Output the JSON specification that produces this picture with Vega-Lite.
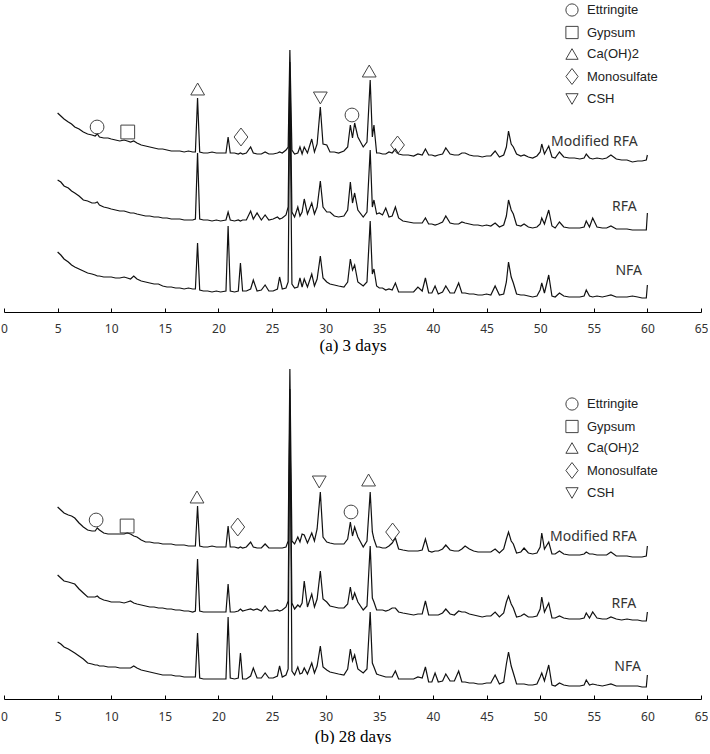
{
"$schema":"https://vega.github.io/schema/vega-lite/v6.json",
"padding":{"left":0,"top":0,"right":0,"bottom":0},
"background":"white",
"config":{"view":{"stroke":null}},
"spacing":12,
"resolve":{"scale":{"shape":"independent","y":"independent"},"legend":{"shape":"independent"}},
"datasets":{
"a":[
{"x":5,"m":199,"r":132,"n":60},{"x":5.3,"m":196,"r":130,"n":57},{"x":5.6,"m":193,"r":126,"n":53},{"x":6,"m":190,"r":124,"n":50},{"x":6.3,"m":188,"r":121,"n":47},{"x":6.6,"m":185,"r":119,"n":45},{"x":7,"m":183,"r":116,"n":43},{"x":7.4,"m":180,"r":112,"n":41},{"x":7.8,"m":178,"r":111,"n":39},{"x":8.2,"m":177,"r":109,"n":38},{"x":8.5,"m":176,"r":109,"n":37},{"x":8.7,"m":178,"r":110,"n":36},{"x":8.9,"m":175,"r":107,"n":36},{"x":9.3,"m":174,"r":105,"n":35},{"x":9.7,"m":174,"r":104,"n":35},{"x":10,"m":173,"r":103,"n":35},{"x":10.4,"m":172,"r":102,"n":34},{"x":10.8,"m":171,"r":101,"n":34},{"x":11.2,"m":172,"r":101,"n":35},{"x":11.5,"m":171,"r":100,"n":34},{"x":11.8,"m":170,"r":99,"n":33},{"x":12.1,"m":171,"r":99,"n":36},{"x":12.4,"m":169,"r":98,"n":33},{"x":12.8,"m":167,"r":97,"n":31},{"x":13.2,"m":166,"r":96,"n":30},{"x":13.6,"m":165,"r":96,"n":29},{"x":14,"m":164,"r":95,"n":28},{"x":14.4,"m":163,"r":95,"n":28},{"x":14.8,"m":163,"r":94,"n":26},{"x":15.2,"m":162,"r":94,"n":25},{"x":15.6,"m":161,"r":93,"n":25},{"x":16,"m":161,"r":93,"n":24},{"x":16.4,"m":161,"r":93,"n":24},{"x":16.8,"m":160,"r":92,"n":23},{"x":17.2,"m":161,"r":92,"n":24},{"x":17.6,"m":160,"r":92,"n":23},{"x":17.85,"m":160,"r":93,"n":23},{"x":18.05,"m":214,"r":159,"n":69},{"x":18.25,"m":160,"r":93,"n":22},{"x":18.6,"m":159,"r":92,"n":21},{"x":19,"m":159,"r":92,"n":21},{"x":19.4,"m":160,"r":91,"n":20},{"x":19.8,"m":159,"r":92,"n":21},{"x":20.2,"m":159,"r":91,"n":20},{"x":20.7,"m":159,"r":92,"n":21},{"x":20.9,"m":175,"r":100,"n":86},{"x":21.1,"m":159,"r":92,"n":21},{"x":21.5,"m":159,"r":91,"n":20},{"x":21.85,"m":158,"r":92,"n":21},{"x":22.05,"m":159,"r":91,"n":49},{"x":22.25,"m":158,"r":92,"n":21},{"x":22.6,"m":159,"r":92,"n":21},{"x":23.0,"m":165,"r":101,"n":23},{"x":23.25,"m":159,"r":93,"n":32},{"x":23.6,"m":158,"r":99,"n":21},{"x":24.0,"m":158,"r":92,"n":22},{"x":24.35,"m":160,"r":97,"n":27},{"x":24.7,"m":158,"r":92,"n":21},{"x":25.1,"m":158,"r":93,"n":21},{"x":25.5,"m":159,"r":95,"n":23},{"x":25.7,"m":160,"r":93,"n":35},{"x":25.95,"m":159,"r":94,"n":23},{"x":26.3,"m":162,"r":97,"n":24},{"x":26.5,"m":165,"r":105,"n":30},{"x":26.66,"m":262,"r":250,"n":230},{"x":26.85,"m":162,"r":100,"n":28},{"x":27.1,"m":158,"r":95,"n":24},{"x":27.4,"m":159,"r":105,"n":25},{"x":27.6,"m":165,"r":96,"n":34},{"x":27.8,"m":158,"r":100,"n":25},{"x":28.0,"m":165,"r":113,"n":33},{"x":28.3,"m":159,"r":98,"n":25},{"x":28.7,"m":173,"r":109,"n":38},{"x":28.95,"m":160,"r":98,"n":26},{"x":29.2,"m":168,"r":105,"n":33},{"x":29.5,"m":205,"r":131,"n":56},{"x":29.75,"m":168,"r":105,"n":34},{"x":30.1,"m":167,"r":100,"n":30},{"x":30.4,"m":160,"r":100,"n":28},{"x":30.8,"m":160,"r":96,"n":27},{"x":31.2,"m":159,"r":95,"n":26},{"x":31.7,"m":161,"r":96,"n":25},{"x":32.05,"m":165,"r":102,"n":30},{"x":32.3,"m":187,"r":130,"n":53},{"x":32.5,"m":174,"r":109,"n":42},{"x":32.7,"m":189,"r":119,"n":47},{"x":33.0,"m":175,"r":102,"n":30},{"x":33.5,"m":165,"r":95,"n":26},{"x":33.85,"m":170,"r":100,"n":30},{"x":34.15,"m":232,"r":162,"n":91},{"x":34.35,"m":175,"r":105,"n":38},{"x":34.5,"m":187,"r":112,"n":43},{"x":34.75,"m":159,"r":98,"n":26},{"x":35.0,"m":159,"r":99,"n":24},{"x":35.3,"m":158,"r":97,"n":24},{"x":35.6,"m":158,"r":104,"n":22},{"x":35.9,"m":160,"r":95,"n":23},{"x":36.2,"m":159,"r":96,"n":22},{"x":36.5,"m":163,"r":105,"n":29},{"x":36.8,"m":158,"r":94,"n":20},{"x":37.2,"m":157,"r":91,"n":20},{"x":37.7,"m":157,"r":90,"n":20},{"x":38.2,"m":156,"r":89,"n":20},{"x":38.6,"m":158,"r":89,"n":25},{"x":39.0,"m":157,"r":89,"n":21},{"x":39.3,"m":163,"r":94,"n":34},{"x":39.6,"m":157,"r":88,"n":19},{"x":39.9,"m":157,"r":88,"n":19},{"x":40.2,"m":156,"r":87,"n":26},{"x":40.5,"m":157,"r":88,"n":18},{"x":40.9,"m":158,"r":90,"n":20},{"x":41.2,"m":164,"r":96,"n":26},{"x":41.6,"m":158,"r":89,"n":19},{"x":42.0,"m":157,"r":88,"n":19},{"x":42.4,"m":157,"r":88,"n":29},{"x":42.7,"m":159,"r":90,"n":19},{"x":43.0,"m":159,"r":89,"n":19},{"x":43.4,"m":157,"r":88,"n":18},{"x":43.8,"m":156,"r":87,"n":18},{"x":44.2,"m":156,"r":87,"n":17},{"x":44.6,"m":155,"r":86,"n":17},{"x":45.0,"m":156,"r":87,"n":18},{"x":45.4,"m":156,"r":86,"n":17},{"x":45.8,"m":161,"r":89,"n":26},{"x":46.2,"m":155,"r":85,"n":17},{"x":46.6,"m":157,"r":87,"n":18},{"x":46.85,"m":165,"r":96,"n":30},{"x":47.05,"m":181,"r":112,"n":50},{"x":47.3,"m":168,"r":102,"n":35},{"x":47.5,"m":165,"r":98,"n":29},{"x":47.8,"m":158,"r":87,"n":18},{"x":48.2,"m":156,"r":86,"n":17},{"x":48.5,"m":157,"r":88,"n":17},{"x":48.9,"m":155,"r":85,"n":16},{"x":49.3,"m":154,"r":84,"n":15},{"x":49.7,"m":156,"r":85,"n":16},{"x":50.0,"m":160,"r":88,"n":22},{"x":50.15,"m":168,"r":94,"n":29},{"x":50.4,"m":158,"r":88,"n":19},{"x":50.8,"m":166,"r":102,"n":37},{"x":51.1,"m":155,"r":86,"n":16},{"x":51.4,"m":154,"r":84,"n":15},{"x":51.8,"m":160,"r":90,"n":19},{"x":52.2,"m":155,"r":85,"n":16},{"x":52.7,"m":154,"r":84,"n":15},{"x":53.2,"m":154,"r":84,"n":15},{"x":53.7,"m":153,"r":84,"n":15},{"x":54.1,"m":154,"r":85,"n":16},{"x":54.3,"m":158,"r":91,"n":22},{"x":54.6,"m":154,"r":85,"n":16},{"x":54.9,"m":153,"r":94,"n":15},{"x":55.3,"m":154,"r":85,"n":16},{"x":55.8,"m":153,"r":84,"n":15},{"x":56.2,"m":154,"r":84,"n":16},{"x":56.6,"m":157,"r":86,"n":17},{"x":57.1,"m":153,"r":83,"n":15},{"x":57.6,"m":152,"r":83,"n":15},{"x":58.1,"m":152,"r":83,"n":15},{"x":58.6,"m":150,"r":82,"n":16},{"x":59.1,"m":151,"r":82,"n":15},{"x":59.5,"m":151,"r":82,"n":14},{"x":59.9,"m":152,"r":82,"n":14},{"x":60,"m":157,"r":99,"n":27}
],
"b":[
{"x":5,"m":192,"r":124,"n":57},{"x":5.3,"m":189,"r":121,"n":55},{"x":5.6,"m":186,"r":118,"n":52},{"x":6,"m":184,"r":117,"n":50},{"x":6.3,"m":183,"r":116,"n":48},{"x":6.6,"m":181,"r":115,"n":46},{"x":7,"m":176,"r":110,"n":43},{"x":7.4,"m":172,"r":106,"n":40},{"x":7.8,"m":169,"r":102,"n":36},{"x":8.2,"m":168,"r":102,"n":35},{"x":8.5,"m":168,"r":102,"n":34},{"x":8.7,"m":171,"r":103,"n":34},{"x":8.9,"m":169,"r":101,"n":33},{"x":9.3,"m":166,"r":99,"n":33},{"x":9.7,"m":165,"r":98,"n":32},{"x":10,"m":165,"r":97,"n":32},{"x":10.4,"m":165,"r":97,"n":32},{"x":10.8,"m":165,"r":97,"n":31},{"x":11.2,"m":165,"r":96,"n":31},{"x":11.5,"m":166,"r":97,"n":31},{"x":11.8,"m":165,"r":98,"n":31},{"x":12.1,"m":163,"r":96,"n":33},{"x":12.4,"m":162,"r":95,"n":31},{"x":12.8,"m":159,"r":94,"n":29},{"x":13.2,"m":157,"r":93,"n":28},{"x":13.6,"m":157,"r":92,"n":27},{"x":14,"m":156,"r":92,"n":26},{"x":14.4,"m":156,"r":91,"n":25},{"x":14.8,"m":155,"r":91,"n":24},{"x":15.2,"m":155,"r":90,"n":24},{"x":15.6,"m":155,"r":90,"n":24},{"x":16,"m":154,"r":89,"n":23},{"x":16.4,"m":154,"r":89,"n":23},{"x":16.8,"m":154,"r":88,"n":22},{"x":17.2,"m":153,"r":88,"n":22},{"x":17.6,"m":153,"r":87,"n":22},{"x":17.85,"m":153,"r":88,"n":22},{"x":18.05,"m":193,"r":140,"n":66},{"x":18.25,"m":153,"r":88,"n":21},{"x":18.6,"m":152,"r":87,"n":20},{"x":19,"m":152,"r":87,"n":20},{"x":19.4,"m":153,"r":87,"n":20},{"x":19.8,"m":152,"r":87,"n":20},{"x":20.2,"m":152,"r":87,"n":20},{"x":20.7,"m":152,"r":87,"n":20},{"x":20.9,"m":173,"r":115,"n":82},{"x":21.1,"m":152,"r":87,"n":21},{"x":21.5,"m":152,"r":87,"n":20},{"x":21.85,"m":151,"r":88,"n":21},{"x":22.05,"m":152,"r":90,"n":46},{"x":22.25,"m":151,"r":88,"n":20},{"x":22.6,"m":152,"r":89,"n":20},{"x":23.0,"m":157,"r":90,"n":23},{"x":23.25,"m":152,"r":89,"n":31},{"x":23.6,"m":151,"r":90,"n":21},{"x":24.0,"m":151,"r":88,"n":21},{"x":24.35,"m":155,"r":93,"n":26},{"x":24.7,"m":151,"r":88,"n":21},{"x":25.1,"m":151,"r":88,"n":21},{"x":25.5,"m":151,"r":89,"n":23},{"x":25.7,"m":151,"r":88,"n":33},{"x":25.95,"m":151,"r":89,"n":22},{"x":26.3,"m":152,"r":92,"n":24},{"x":26.5,"m":158,"r":98,"n":30},{"x":26.66,"m":330,"r":290,"n":310},{"x":26.85,"m":158,"r":96,"n":28},{"x":27.1,"m":155,"r":90,"n":24},{"x":27.4,"m":162,"r":94,"n":32},{"x":27.6,"m":157,"r":92,"n":25},{"x":27.8,"m":165,"r":96,"n":26},{"x":28.0,"m":164,"r":118,"n":31},{"x":28.3,"m":156,"r":92,"n":25},{"x":28.7,"m":166,"r":105,"n":36},{"x":28.95,"m":158,"r":92,"n":26},{"x":29.2,"m":170,"r":100,"n":33},{"x":29.5,"m":207,"r":128,"n":53},{"x":29.75,"m":162,"r":100,"n":32},{"x":30.1,"m":157,"r":97,"n":29},{"x":30.4,"m":156,"r":93,"n":27},{"x":30.8,"m":155,"r":92,"n":26},{"x":31.2,"m":155,"r":91,"n":25},{"x":31.7,"m":155,"r":91,"n":24},{"x":32.05,"m":160,"r":95,"n":30},{"x":32.3,"m":177,"r":112,"n":50},{"x":32.5,"m":163,"r":99,"n":38},{"x":32.7,"m":172,"r":106,"n":44},{"x":33.0,"m":162,"r":97,"n":30},{"x":33.5,"m":152,"r":89,"n":26},{"x":33.85,"m":158,"r":93,"n":30},{"x":34.15,"m":207,"r":153,"n":87},{"x":34.35,"m":167,"r":101,"n":36},{"x":34.5,"m":160,"r":97,"n":32},{"x":34.75,"m":152,"r":89,"n":25},{"x":35.0,"m":152,"r":89,"n":24},{"x":35.3,"m":151,"r":89,"n":23},{"x":35.6,"m":151,"r":88,"n":22},{"x":35.9,"m":153,"r":89,"n":22},{"x":36.2,"m":156,"r":91,"n":22},{"x":36.5,"m":161,"r":91,"n":28},{"x":36.8,"m":150,"r":87,"n":20},{"x":37.2,"m":149,"r":86,"n":20},{"x":37.7,"m":148,"r":85,"n":20},{"x":38.2,"m":148,"r":84,"n":20},{"x":38.6,"m":148,"r":85,"n":22},{"x":39.0,"m":149,"r":85,"n":21},{"x":39.3,"m":160,"r":98,"n":32},{"x":39.6,"m":148,"r":84,"n":17},{"x":39.9,"m":147,"r":84,"n":17},{"x":40.2,"m":148,"r":84,"n":26},{"x":40.5,"m":148,"r":84,"n":17},{"x":40.9,"m":150,"r":86,"n":18},{"x":41.2,"m":154,"r":90,"n":25},{"x":41.6,"m":149,"r":85,"n":18},{"x":42.0,"m":148,"r":84,"n":18},{"x":42.4,"m":148,"r":88,"n":28},{"x":42.7,"m":150,"r":87,"n":17},{"x":43.0,"m":153,"r":87,"n":17},{"x":43.4,"m":150,"r":85,"n":16},{"x":43.8,"m":148,"r":84,"n":16},{"x":44.2,"m":147,"r":83,"n":15},{"x":44.6,"m":147,"r":82,"n":15},{"x":45.0,"m":147,"r":83,"n":16},{"x":45.4,"m":147,"r":83,"n":16},{"x":45.8,"m":150,"r":87,"n":24},{"x":46.2,"m":146,"r":82,"n":15},{"x":46.6,"m":150,"r":86,"n":17},{"x":46.85,"m":160,"r":97,"n":35},{"x":47.05,"m":167,"r":103,"n":47},{"x":47.3,"m":158,"r":95,"n":33},{"x":47.5,"m":155,"r":91,"n":26},{"x":47.8,"m":146,"r":82,"n":15},{"x":48.2,"m":147,"r":83,"n":15},{"x":48.5,"m":151,"r":85,"n":15},{"x":48.9,"m":146,"r":82,"n":14},{"x":49.3,"m":145,"r":82,"n":14},{"x":49.7,"m":146,"r":83,"n":15},{"x":50.0,"m":152,"r":90,"n":22},{"x":50.15,"m":166,"r":102,"n":26},{"x":50.4,"m":150,"r":87,"n":18},{"x":50.8,"m":157,"r":96,"n":34},{"x":51.1,"m":145,"r":81,"n":14},{"x":51.4,"m":145,"r":81,"n":13},{"x":51.8,"m":148,"r":83,"n":16},{"x":52.2,"m":145,"r":81,"n":14},{"x":52.7,"m":144,"r":80,"n":13},{"x":53.2,"m":144,"r":80,"n":13},{"x":53.7,"m":144,"r":80,"n":13},{"x":54.1,"m":145,"r":81,"n":14},{"x":54.3,"m":147,"r":86,"n":19},{"x":54.6,"m":145,"r":81,"n":14},{"x":54.9,"m":145,"r":87,"n":15},{"x":55.3,"m":144,"r":81,"n":14},{"x":55.8,"m":144,"r":80,"n":13},{"x":56.2,"m":144,"r":80,"n":14},{"x":56.6,"m":147,"r":82,"n":15},{"x":57.1,"m":143,"r":80,"n":13},{"x":57.6,"m":143,"r":79,"n":13},{"x":58.1,"m":143,"r":80,"n":13},{"x":58.6,"m":142,"r":79,"n":13},{"x":59.1,"m":142,"r":79,"n":13},{"x":59.5,"m":142,"r":78,"n":12},{"x":59.9,"m":143,"r":78,"n":12},{"x":60,"m":153,"r":87,"n":24}
],
"la":[{"x":59.1,"y":170,"t":"Modified RFA"},{"x":59.0,"y":105,"t":"RFA"},{"x":59.5,"y":41,"t":"NFA"}],
"lb":[{"x":59.0,"y":162,"t":"Modified RFA"},{"x":58.95,"y":95,"t":"RFA"},{"x":59.4,"y":32,"t":"NFA"}],
"pa":[{"x":8.68,"y":185,"c":"Ettringite"},{"x":11.54,"y":180,"c":"Gypsum"},{"x":18.06,"y":223,"c":"Ca(OH)2"},{"x":22.1,"y":175,"c":"Monosulfate"},{"x":29.5,"y":214,"c":"CSH"},{"x":32.45,"y":197,"c":"Ettringite"},{"x":34.06,"y":241,"c":"Ca(OH)2"},{"x":36.7,"y":167,"c":"Monosulfate"}],
"pb":[{"x":8.59,"y":179,"c":"Ettringite"},{"x":11.48,"y":173,"c":"Gypsum"},{"x":18.0,"y":202,"c":"Ca(OH)2"},{"x":21.8,"y":172,"c":"Monosulfate"},{"x":29.4,"y":217,"c":"CSH"},{"x":32.36,"y":187,"c":"Ettringite"},{"x":34.0,"y":219,"c":"Ca(OH)2"},{"x":36.24,"y":167,"c":"Monosulfate"}]
},
"vconcat":[
{
"width":697,"height":312,
"layer":[
{"data":{"name":"a"},"transform":[{"fold":["m","r","n"],"as":["s","v"]}],
 "mark":{"type":"line","color":"#111","strokeWidth":1.2},
 "encoding":{
  "x":{"field":"x","type":"quantitative","scale":{"domain":[0,65],"nice":false,"zero":false},
       "axis":{"values":[0,5,10,15,20,25,30,35,40,45,50,55,60,65],"labelFlush":false,"labelOverlap":false,"tickSize":-4,"tickColor":"#000","domainColor":"#000","grid":false,
               "labelFont":"Noto Sans","labelFontSize":12,"labelColor":"#333","labelPadding":15,
               "title":"(a)  3 days","titleFont":"Liberation Serif","titleFontSize":17,"titleFontWeight":"normal","titleColor":"#000","titlePadding":3}},
  "y":{"field":"v","type":"quantitative","scale":{"domain":[0,312],"nice":false,"zero":false},"axis":null},
  "detail":{"field":"s"}}},
{"data":{"name":"la"},"mark":{"type":"text","align":"right","baseline":"middle","font":"Noto Sans","fontSize":14,"color":"#333"},
 "encoding":{"x":{"field":"x","type":"quantitative"},"y":{"field":"y","type":"quantitative"},"text":{"field":"t"}}},
{"data":{"name":"pa"},"mark":{"type":"point","filled":false,"stroke":"#444","strokeWidth":1,"size":190,"opacity":1},
 "encoding":{"x":{"field":"x","type":"quantitative"},"y":{"field":"y","type":"quantitative"},
  "shape":{"field":"c","type":"nominal","scale":{"domain":["Ettringite","Gypsum","Ca(OH)2","Monosulfate","CSH"],"range":["circle","square","triangle-up","M-1,0L0,-1.3L1,0L0,1.3Z","triangle-down"]},
   "legend":{"title":null,"orient":"none","legendX":561,"legendY":3,"padding":0,"labelFont":"Liberation Sans","labelFontSize":13,"labelColor":"#222","symbolSize":150,"symbolStrokeColor":"#444","symbolStrokeWidth":1,"symbolFillColor":"transparent","rowPadding":4.5,"labelOffset":8}}}}
]
},
{
"width":697,"height":334,
"layer":[
{"data":{"name":"b"},"transform":[{"fold":["m","r","n"],"as":["s","v"]}],
 "mark":{"type":"line","color":"#111","strokeWidth":1.2},
 "encoding":{
  "x":{"field":"x","type":"quantitative","scale":{"domain":[0,65],"nice":false,"zero":false},
       "axis":{"values":[0,5,10,15,20,25,30,35,40,45,50,55,60,65],"labelFlush":false,"labelOverlap":false,"tickSize":-4,"tickColor":"#000","domainColor":"#000","grid":false,
               "labelFont":"Noto Sans","labelFontSize":12,"labelColor":"#333","labelPadding":16,
               "title":"(b) 28 days","titleFont":"Liberation Serif","titleFontSize":17,"titleFontWeight":"normal","titleColor":"#000","titlePadding":6}},
  "y":{"field":"v","type":"quantitative","scale":{"domain":[0,334],"nice":false,"zero":false},"axis":null},
  "detail":{"field":"s"}}},
{"data":{"name":"lb"},"mark":{"type":"text","align":"right","baseline":"middle","font":"Noto Sans","fontSize":14,"color":"#333"},
 "encoding":{"x":{"field":"x","type":"quantitative"},"y":{"field":"y","type":"quantitative"},"text":{"field":"t"}}},
{"data":{"name":"pb"},"mark":{"type":"point","filled":false,"stroke":"#444","strokeWidth":1,"size":190,"opacity":1},
 "encoding":{"x":{"field":"x","type":"quantitative"},"y":{"field":"y","type":"quantitative"},
  "shape":{"field":"c","type":"nominal","scale":{"domain":["Ettringite","Gypsum","Ca(OH)2","Monosulfate","CSH"],"range":["circle","square","triangle-up","M-1,0L0,-1.3L1,0L0,1.3Z","triangle-down"]},
   "legend":{"title":null,"orient":"none","legendX":561,"legendY":32,"padding":0,"labelFont":"Liberation Sans","labelFontSize":13,"labelColor":"#222","symbolSize":150,"symbolStrokeColor":"#444","symbolStrokeWidth":1,"symbolFillColor":"transparent","rowPadding":4.5,"labelOffset":8}}}}
]
}
]
}
